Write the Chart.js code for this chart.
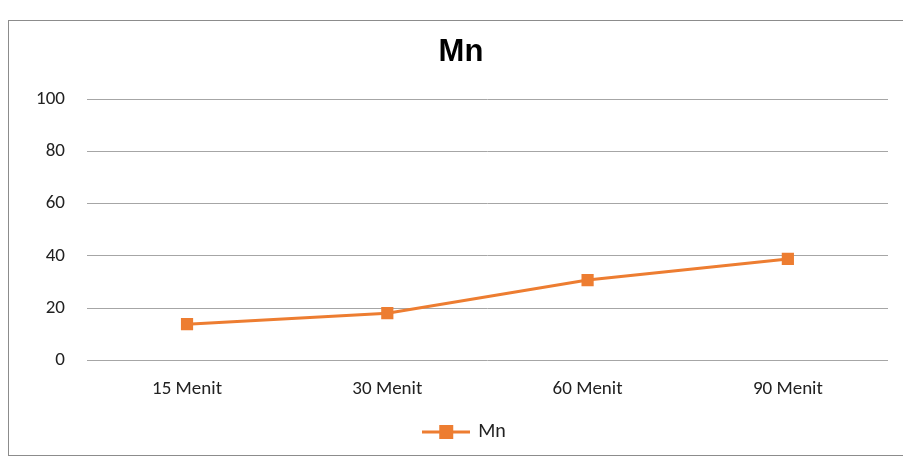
<!DOCTYPE html>
<html>
<head>
<meta charset="utf-8">
<script src="https://cdn.jsdelivr.net/npm/chart.js@4"></script>
<style>
    html, body { margin: 0; padding: 0; background: #fff; }
    #wrap { position: relative; width: 903px; height: 459px; }
    #frame { position: absolute; left: 8px; top: 20px; width: 900px; height: 436px; border: 1px solid #8c8c8c; box-sizing: border-box; }
    #box { position: absolute; left: 0; top: 0; width: 903px; height: 459px; }
</style>
</head>
<body>
<div id="wrap">
    <div id="frame"></div>
    <div id="box"><canvas id="myChart"></canvas></div>
</div>
<script>

// data
const categories = ['15 Menit', '30 Menit', '60 Menit', '90 Menit'];
const mnValues = [13.8, 18, 30.7, 38.8];
const yTicks = [0, 20, 40, 60, 80, 100];

const orange = '#ED7D31';
const labelFont = 'Carlito, "Liberation Sans Narrow", "Liberation Sans", sans-serif';

// legend symbol: short line with a square in the middle, like the excel one
function legendIcon() {
    const c = document.createElement('canvas');
    c.width = 48;
    c.height = 14;
    const ctx = c.getContext('2d');
    ctx.strokeStyle = orange;
    ctx.lineWidth = 3;
    ctx.beginPath();
    ctx.moveTo(0, 7);
    ctx.lineTo(48, 7);
    ctx.stroke();
    ctx.fillStyle = orange;
    ctx.fillRect(17, 0, 14, 14);
    return c;
}

// title and legend sit centred on the frame, not on the canvas, so nudge them right
const blockShift = {
    id: 'blockShift',
    afterLayout(chart) {
        if (chart.titleBlock) chart.titleBlock.left += 20;
        if (chart.legend) chart.legend.left += 28;
    }
};

const data = {
    labels: categories,
    datasets: [
        {
            label: 'Mn',
            data: mnValues,
            borderColor: orange,
            backgroundColor: orange,
            borderWidth: 3,
            pointStyle: 'rect',
            pointRadius: 6.5,
            pointHoverRadius: 6.5,
            tension: 0
        }
    ]
};

const config = {
    type: 'line',
    data,
    plugins: [blockShift],
    options: {
        responsive: false,
        animation: false,
        layout: { padding: { left: 14, right: 15, top: 34, bottom: 7 } },
        plugins: {
            title: {
                display: true,
                text: 'Mn',
                color: '#000',
                font: { family: '"Liberation Sans", Arial, sans-serif', size: 31, weight: 'bold' },
                padding: { top: 0, bottom: 28 }
            },
            legend: {
                position: 'bottom',
                labels: {
                    color: '#222',
                    font: { family: labelFont, size: 20 },
                    usePointStyle: true,
                    pointStyleWidth: 44,
                    padding: 11,
                    generateLabels: (chart) => {
                        const items = Chart.defaults.plugins.legend.labels.generateLabels(chart);
                        const icon = legendIcon();
                        items.forEach(it => { it.pointStyle = icon; });
                        return items;
                    }
                }
            },
            tooltip: { enabled: false }
        },
        scales: {
            x: {
                offset: true,
                grid: { display: false },
                border: { display: false },
                ticks: { color: '#222', font: { family: labelFont, size: 19 }, padding: 10 }
            },
            y: {
                min: 0,
                max: 100,
                afterBuildTicks: (axis) => {
                    axis.ticks = yTicks.map(v => ({ value: v }));
                },
                grid: { color: '#a6a6a6', lineWidth: 1, drawTicks: false },
                border: { display: false },
                ticks: { color: '#222', font: { family: labelFont, size: 19 }, padding: 22 }
            }
        }
    }
};

const canvas = document.getElementById('myChart');
canvas.width = 903;
canvas.height = 459;
new Chart(canvas, config);
</script>
</body>
</html>
